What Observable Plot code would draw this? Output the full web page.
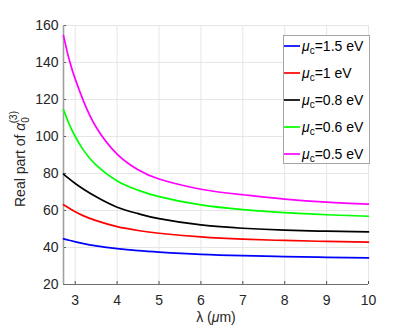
<!DOCTYPE html>
<html>
<head>
<meta charset="utf-8">
<script src="https://cdn.jsdelivr.net/npm/d3@7"></script>
<script src="https://cdn.jsdelivr.net/npm/@observablehq/plot@0.6"></script>
<style>
  html, body { margin: 0; padding: 0; background: #fff; }
  #chart svg { display: block; font-family: "Liberation Sans", Arial, sans-serif; }
</style>
</head>
<body>
<div id="chart"></div>
<script>
// Wavelength samples (µm)
const lambda = [2.72, 2.85, 3, 3.2, 3.5, 4, 4.5, 5, 6, 7, 8, 9, 10];
// Real part of alpha_0^(3) for each chemical potential
const mu15 = [44.7, 43.9, 43.1, 42.1, 40.9, 39.4, 38.3, 37.5, 36.3, 35.6, 35.1, 34.7, 34.4];
const mu10 = [63.1, 61.3, 59.3, 57.1, 54.5, 51.3, 49.2, 47.7, 45.7, 44.5, 43.8, 43.3, 42.9];
const mu08 = [79.7, 77.2, 74.6, 71.5, 67.4, 61.8, 58.3, 55.6, 52.2, 50.4, 49.4, 48.8, 48.4];
const mu06 = [114.4, 107, 100, 92.5, 84.5, 76, 71, 67.5, 63, 60.5, 58.8, 57.7, 56.9];
const mu05 = [154.6, 142, 131, 119, 105, 90.5, 82, 77, 71.5, 68.5, 66.2, 64.5, 63.4];

const seriesValues = [mu15, mu10, mu08, mu06, mu05];
const seriesLabels = ["1.5 eV", "1 eV", "0.8 eV", "0.6 eV", "0.5 eV"];
const seriesColors = ["#0000ff", "#ff0000", "#000000", "#00ff00", "#ff00ff"];

const xTicks = [3, 4, 5, 6, 7, 8, 9, 10];
const yTicks = [20, 40, 60, 80, 100, 120, 140, 160];
const xDomain = [2.72, 10];
const yDomain = [20, 160];

const rows = [];
seriesValues.forEach((vals, s) => {
  vals.forEach((v, i) => rows.push({lambda: lambda[i], value: v, series: seriesLabels[s]}));
});

const chart = Plot.plot({
  width: 407,
  height: 328,
  marginLeft: 63,
  marginRight: 39,
  marginTop: 25,
  marginBottom: 44,
  style: {fontFamily: "Liberation Sans, Arial, sans-serif", fontSize: "14px", color: "#262626", background: "#fff"},
  x: {domain: xDomain},
  y: {domain: yDomain},
  color: {domain: seriesLabels, range: seriesColors},
  marks: [
    Plot.gridX(xTicks, {stroke: "#e6e6e6", strokeOpacity: 1}),
    Plot.gridY(yTicks, {stroke: "#e6e6e6", strokeOpacity: 1}),
    Plot.ruleX(xTicks, {y1: yDomain[0], y2: yDomain[0] + 1.6, stroke: "#4d4d4d"}),
    Plot.ruleY(yTicks, {x1: xDomain[0], x2: xDomain[0] + 0.07, stroke: "#4d4d4d"}),
    Plot.ruleY([yDomain[0]], {stroke: "#6e6e6e", strokeWidth: 1}),
    Plot.ruleX([xDomain[0]], {stroke: "#a0a0a0", strokeWidth: 1.6}),
    Plot.line(rows, {x: "lambda", y: "value", z: "series", stroke: "series", strokeWidth: 1.7, curve: "natural"}),
    Plot.axisX(xTicks, {tickSize: 0, tickPadding: 11, label: null, fontSize: 14, fill: "#262626"}),
    Plot.axisY(yTicks, {tickSize: 0, tickPadding: 5, label: null, fontSize: 14, fill: "#262626"})
  ]
});

document.getElementById("chart").appendChild(chart);

const svg = d3.select(chart);
const font = "Liberation Sans, Arial, sans-serif";

// x-axis title
const xt = svg.append("text")
  .attr("x", 216).attr("y", 322)
  .attr("text-anchor", "middle")
  .attr("font-family", font).attr("font-size", 14).attr("fill", "#262626");
xt.append("tspan").text("λ (");
xt.append("tspan").attr("font-style", "italic").text("μ");
xt.append("tspan").text("m)");

// y-axis title
const yt = svg.append("text")
  .attr("transform", "translate(25,159) rotate(-90)")
  .attr("text-anchor", "middle")
  .attr("font-family", font).attr("font-size", 14).attr("fill", "#262626");
yt.append("tspan").text("Real part of ");
yt.append("tspan").attr("font-style", "italic").text("α");
yt.append("tspan").attr("font-size", 10).attr("dy", 4).text("0");
yt.append("tspan").attr("font-size", 10).attr("dy", -12).attr("dx", -6).text("(3)");

// legend
const lg = svg.append("g").attr("text-anchor", "start");
lg.append("rect")
  .attr("x", 283.5).attr("y", 35.5).attr("width", 86).attr("height", 128)
  .attr("fill", "#fff").attr("stroke", "#a6a6a6").attr("stroke-width", 1);
seriesLabels.forEach((lab, i) => {
  const y = 46 + i * 27;
  lg.append("line").attr("x1", 284).attr("x2", 300).attr("y1", y).attr("y2", y)
    .attr("stroke", seriesColors[i]).attr("stroke-width", 1.7);
  const t = lg.append("text").attr("x", 302).attr("y", y + 5)
    .attr("text-anchor", "start")
    .attr("font-family", font).attr("font-size", 14).attr("fill", "#000");
  t.append("tspan").attr("font-style", "italic").text("μ");
  t.append("tspan").attr("font-size", 10).attr("dy", 3).text("c");
  t.append("tspan").attr("dy", -3).text("=" + lab);
});
</script>
</body>
</html>
